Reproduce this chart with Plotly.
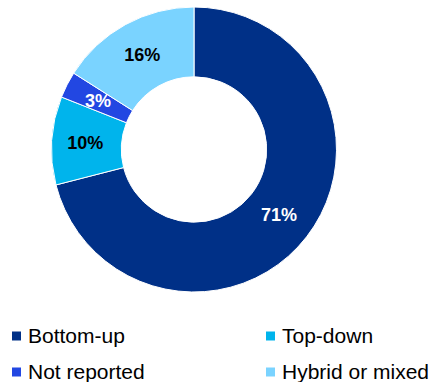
import numpy as np
import plotly.graph_objects as go

labels = ["Bottom-up", "Top-down", "Not reported", "Hybrid or mixed"]
values = [71, 10, 3, 16]
colors = ["#003087", "#00B4EC", "#2247E2", "#7AD3FF"]
text_colors = ["white", "black", "white", "black"]

W, H = 433, 382
# pie geometry (px)
pcx, pcy, r_out = 194, 149.5, 142.5
hole = 0.51
dom_x = [(pcx - r_out)/W, (pcx + r_out)/W]
dom_y = [1 - (pcy + r_out)/H, 1 - (pcy - r_out)/H]

# small slices get their label placed as an annotation at the slice centre
small = [v < 5 for v in values]
templates = ["" if s else "<b>%{value}%</b>" for s in small]

fig = go.Figure(go.Pie(
    labels=labels, values=values, sort=False, direction="clockwise", rotation=0,
    hole=hole,
    marker=dict(colors=colors, line=dict(color="white", width=1)),
    texttemplate=templates, textposition="inside",
    insidetextorientation="horizontal",
    insidetextfont=dict(color=text_colors, size=18, family="Liberation Sans, Arial"),
    domain=dict(x=dom_x, y=dom_y),
    hoverinfo="label+percent", showlegend=False,
))

annotations, shapes = [], []
vals = np.array(values, dtype=float)
cum = np.cumsum(vals) - vals / 2
r_mid = r_out * (1 + hole) / 2
for i, s in enumerate(small):
    if not s:
        continue
    ang = 2 * np.pi * cum[i] / vals.sum()
    x = pcx + r_mid * np.sin(ang)
    y = pcy - r_mid * np.cos(ang)
    annotations.append(dict(text=f"<b>{values[i]}%</b>", xref="paper", yref="paper",
                            x=x/W, y=1-y/H, xanchor="center", yanchor="middle",
                            showarrow=False,
                            font=dict(size=18, family="Liberation Sans, Arial",
                                      color=text_colors[i])))

# legend drawn as 2x2 grid: (column x of square, row y centre) in px
col_x = [12, 266]
row_y = [336, 372]
sq = 9
for i, (lab, col) in enumerate(zip(labels, colors)):
    cx = col_x[i % 2]
    cy = row_y[i // 2]
    shapes.append(dict(type="rect", xref="paper", yref="paper",
                       x0=cx/W, x1=(cx+sq)/W, y0=1-(cy+sq/2)/H, y1=1-(cy-sq/2)/H,
                       fillcolor=col, line=dict(width=0)))
    annotations.append(dict(text=lab, xref="paper", yref="paper",
                            x=(cx+sq+5)/W, y=1-(cy-1)/H, xanchor="left", yanchor="middle",
                            showarrow=False,
                            font=dict(size=21, family="Liberation Sans, Arial", color="black")))

fig.update_layout(
    width=W, height=H, margin=dict(l=0, r=0, t=0, b=0),
    paper_bgcolor="white", plot_bgcolor="white",
    font=dict(family="Liberation Sans, Arial", color="black"),
    showlegend=False, shapes=shapes, annotations=annotations,
)
fig.write_html("out.html")
